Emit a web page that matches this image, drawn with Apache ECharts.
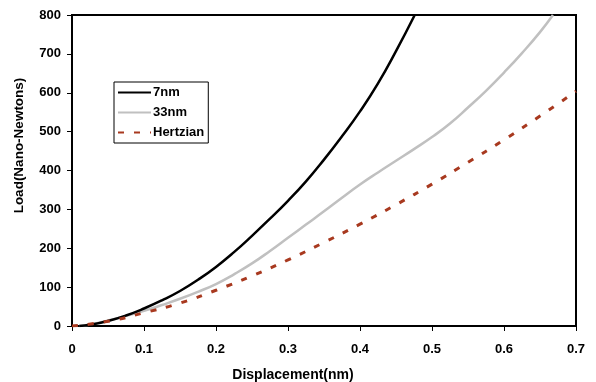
<!DOCTYPE html>
<html>
<head>
<meta charset="utf-8">
<script src="https://cdn.jsdelivr.net/npm/echarts@6/dist/echarts.min.js"></script>
<style>
  html, body { margin: 0; padding: 0; background: #fff; }
  #chart { width: 596px; height: 382px; }
</style>
</head>
<body>
<div id="chart"></div>
<script>
// displacement (nm), load (nN)
const data7nm = [
  [0.01, 0], [0.025, 3], [0.05, 13], [0.075, 27], [0.1, 45], [0.125, 66],
  [0.15, 90], [0.175, 119], [0.2, 152], [0.225, 190], [0.25, 232],
  [0.275, 276], [0.3, 322], [0.325, 372], [0.35, 428], [0.375, 488],
  [0.4, 552], [0.425, 624], [0.45, 707], [0.476, 800]
]
const data33nm = [
  [0.01, 0], [0.025, 4], [0.05, 14], [0.075, 26], [0.1, 39], [0.125, 54],
  [0.15, 70], [0.175, 88], [0.2, 108], [0.225, 133], [0.25, 161],
  [0.275, 193], [0.3, 227], [0.325, 261], [0.35, 295], [0.375, 330],
  [0.4, 364], [0.425, 395], [0.45, 425], [0.475, 455], [0.5, 486],
  [0.525, 521], [0.55, 562], [0.575, 605], [0.6, 652], [0.625, 702],
  [0.65, 756], [0.668, 800]
]
const dataHertz = [
  [0, 0], [0.05, 12], [0.1, 34], [0.15, 59], [0.2, 92], [0.25, 129],
  [0.3, 170], [0.35, 215], [0.4, 262], [0.45, 312], [0.5, 365],
  [0.55, 421], [0.6, 479], [0.65, 540], [0.7, 604]
]

const font = 'Liberation Sans, Arial, sans-serif'

const chart = echarts.init(document.getElementById('chart'), null, { renderer: 'canvas' })
chart.setOption({
  animation: false,
  backgroundColor: '#fff',
  grid: {
    left: 72,
    right: 20,
    top: 15,
    bottom: 56,
    outerBoundsMode: 'none',
    show: true,
    borderColor: '#000',
    borderWidth: 2,
  },
  legend: {
    orient: 'vertical',
    left: 114,
    top: 82,
    padding: [4, 4, 4, 3],
    itemWidth: 33,
    itemHeight: 10,
    itemGap: 7,
    borderColor: '#000',
    borderWidth: 1,
    backgroundColor: '#fff',
    itemStyle: { opacity: 0 }, // line only, no marker
    textStyle: { fontFamily: font, fontWeight: 'bold', fontSize: 13, lineHeight: 13, color: '#000', padding: [0, 0, 0, -3] },
    data: ['7nm', '33nm', 'Hertzian'],
  },
  xAxis: {
    type: 'value',
    min: 0,
    max: 0.7,
    interval: 0.1,
    name: 'Displacement(nm)',
    nameLocation: 'middle',
    nameGap: 42,
    nameTextStyle: { fontFamily: font, fontWeight: 'bold', fontSize: 14, color: '#000', padding: [0, 62, 0, 0] },
    axisLine: { show: true, lineStyle: { color: '#000', width: 2 } },
    axisTick: { show: true, length: 5, lineStyle: { color: '#000', width: 1 } },
    axisLabel: { fontFamily: font, fontWeight: 'bold', fontSize: 13, color: '#000', margin: 17 },
    splitLine: { show: false },
  },
  yAxis: {
    type: 'value',
    min: 0,
    max: 800,
    interval: 100,
    name: 'Load(Nano-Newtons)',
    nameLocation: 'middle',
    nameGap: 46,
    nameTextStyle: { fontFamily: font, fontWeight: 'bold', fontSize: 13.5, color: '#000', padding: [0, 0, 0, 50] },
    axisLine: { show: true, lineStyle: { color: '#000', width: 2 } },
    axisTick: { show: true, length: 5, lineStyle: { color: '#000', width: 1 } },
    axisLabel: { fontFamily: font, fontWeight: 'bold', fontSize: 13, color: '#000', margin: 11 },
    splitLine: { show: false },
  },
  series: [
    {
      name: '7nm',
      type: 'line',
      data: data7nm,
      smooth: true,
      symbol: 'none',
      lineStyle: { color: '#000', width: 2.5 },
      itemStyle: { color: '#000' },
      z: 4,
    },
    {
      name: '33nm',
      type: 'line',
      data: data33nm,
      smooth: true,
      symbol: 'none',
      lineStyle: { color: '#c0c0c0', width: 2.5 },
      itemStyle: { color: '#c0c0c0' },
      z: 3,
    },
    {
      name: 'Hertzian',
      type: 'line',
      data: dataHertz,
      smooth: true,
      symbol: 'none',
      lineStyle: { color: '#a8391f', width: 3, type: [6, 10] },
      itemStyle: { color: '#a8391f' },
      z: 5,
    },
  ],
})
</script>
</body>
</html>
